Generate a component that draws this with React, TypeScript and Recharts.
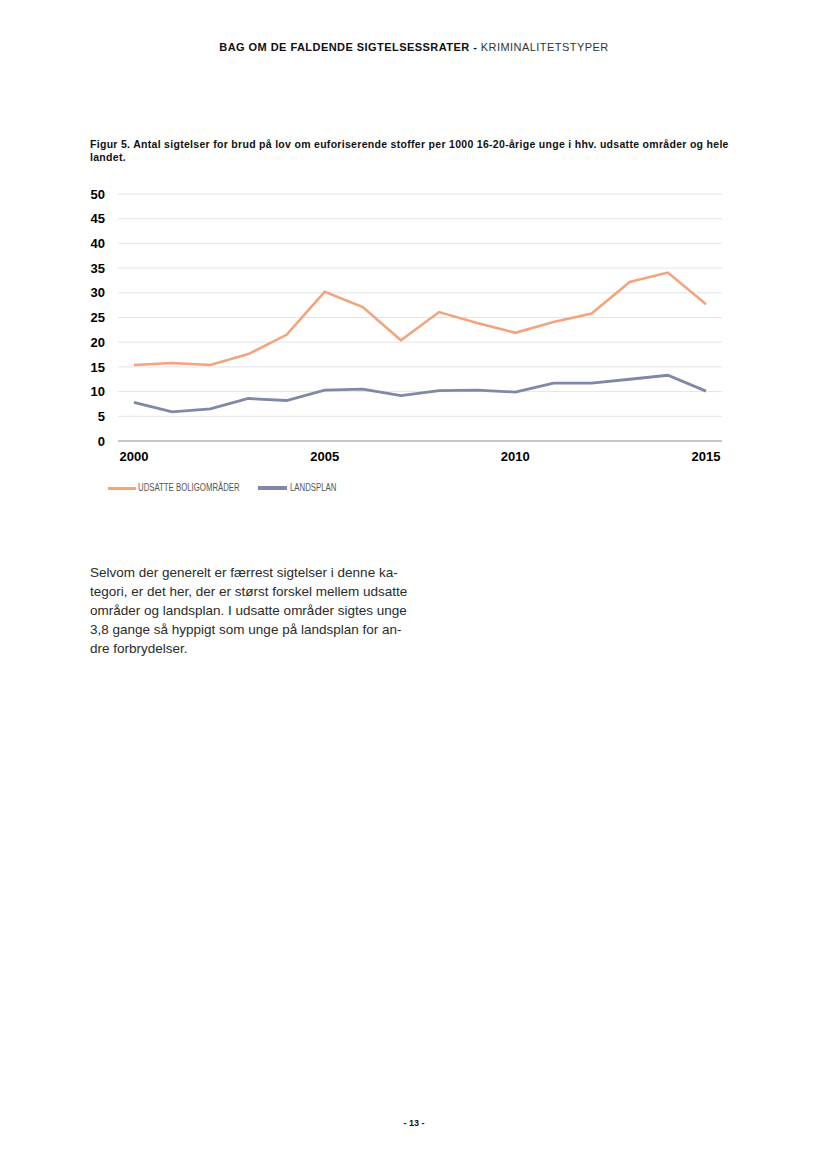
import React from 'react';
import { LineChart, Line, XAxis, YAxis, CartesianGrid } from 'recharts';

const years = [2000, 2001, 2002, 2003, 2004, 2005, 2006, 2007, 2008, 2009, 2010, 2011, 2012, 2013, 2014, 2015];
const udsatte = [15.4, 15.8, 15.4, 17.6, 21.5, 30.2, 27.1, 20.4, 26.1, 23.9, 21.9, 24.1, 25.8, 32.2, 34.1, 27.7];
const landsplan = [7.8, 5.9, 6.5, 8.6, 8.2, 10.3, 10.5, 9.2, 10.2, 10.3, 9.9, 11.7, 11.7, 12.5, 13.3, 10.1];
const xTicks = [2000, 2005, 2010, 2015];
const yTicks = [0, 5, 10, 15, 20, 25, 30, 35, 40, 45, 50];
const seriesNames = ['UDSATTE BOLIGOMRÅDER', 'LANDSPLAN'];

const ORANGE = '#f3a47c';
const BLUE = '#7f88a8';
const FONT = '"Liberation Sans", Arial, sans-serif';

const data = years.map((y, i) => ({ year: y, udsatte: udsatte[i], landsplan: landsplan[i] }));

const legendText: React.CSSProperties = {
    position: 'absolute',
    top: 0,
    whiteSpace: 'nowrap',
    fontSize: 10,
    lineHeight: '12px',
    color: '#555',
    transform: 'scaleX(0.78)',
    transformOrigin: 'left center',
};

const App: React.FC = () => {
    return (
        <div style={{ position: 'absolute', left: 0, top: 0, width: 828, height: 1169, background: '#fff', fontFamily: FONT, color: '#111' }}>
            <div style={{ position: 'absolute', top: 41, left: 0, width: 828, textAlign: 'center', fontSize: 11, letterSpacing: 0.45, whiteSpace: 'nowrap' }}>
                <span style={{ fontWeight: 'bold' }}>BAG OM DE FALDENDE SIGTELSESSRATER - </span>
                <span style={{ color: '#333' }}>KRIMINALITETSTYPER</span>
            </div>

            <div style={{ position: 'absolute', top: 138, left: 90, width: 700, fontSize: 10.5, letterSpacing: 0.3, fontWeight: 'bold', lineHeight: '13px', whiteSpace: 'nowrap' }}>
                Figur 5. Antal sigtelser for brud på lov om euforiserende stoffer per 1000 16-20-årige unge i hhv. udsatte områder og hele
                <br />
                landet.
            </div>

            <div style={{ position: 'absolute', top: 180, left: 80 }}>
                <LineChart width={660} height={300} data={data} margin={{ top: 14, right: 18, left: 8, bottom: 9 }}>
                    <CartesianGrid vertical={false} stroke="#e2e3ec" strokeWidth={1} />
                    <XAxis
                        dataKey="year"
                        type="number"
                        domain={[2000, 2015]}
                        ticks={xTicks}
                        padding={{ left: 16, right: 16 }}
                        height={30}
                        tickLine={false}
                        tickSize={0}
                        tickMargin={11}
                        axisLine={{ stroke: '#9a9a9a' }}
                        tick={{ fill: '#000', fontSize: 13, fontWeight: 'bold', fontFamily: FONT }}
                    />
                    <YAxis
                        domain={[0, 50]}
                        ticks={yTicks}
                        width={30}
                        axisLine={false}
                        tickLine={false}
                        tickSize={0}
                        tickMargin={13}
                        tick={{ fill: '#000', fontSize: 13, fontWeight: 'bold', fontFamily: FONT }}
                    />
                    <Line type="linear" dataKey="udsatte" name={seriesNames[0]} stroke={ORANGE} strokeWidth={2.6} dot={false} isAnimationActive={false} />
                    <Line type="linear" dataKey="landsplan" name={seriesNames[1]} stroke={BLUE} strokeWidth={2.8} dot={false} isAnimationActive={false} />
                </LineChart>
            </div>

            <div style={{ position: 'absolute', top: 482, left: 0, width: 828, height: 14 }}>
                <span style={{ position: 'absolute', left: 108, top: 5, width: 28, height: 3, background: ORANGE }} />
                <span style={{ ...legendText, left: 138 }}>{seriesNames[0]}</span>
                <span style={{ position: 'absolute', left: 258, top: 4, width: 29, height: 4, background: BLUE }} />
                <span style={{ ...legendText, left: 290 }}>{seriesNames[1]}</span>
            </div>

            <div style={{ position: 'absolute', top: 563, left: 90, width: 380, fontSize: 13.5, lineHeight: '19px', color: '#2a2a2a', whiteSpace: 'nowrap' }}>
                Selvom der generelt er færrest sigtelser i denne ka-
                <br />
                tegori, er det her, der er størst forskel mellem udsatte
                <br />
                områder og landsplan. I udsatte områder sigtes unge
                <br />
                3,8 gange så hyppigt som unge på landsplan for an-
                <br />
                dre forbrydelser.
            </div>

            <div style={{ position: 'absolute', top: 1118, left: 0, width: 828, textAlign: 'center', fontSize: 9, fontWeight: 'bold' }}>
                - 13 -
            </div>
        </div>
    );
};

export default App;
